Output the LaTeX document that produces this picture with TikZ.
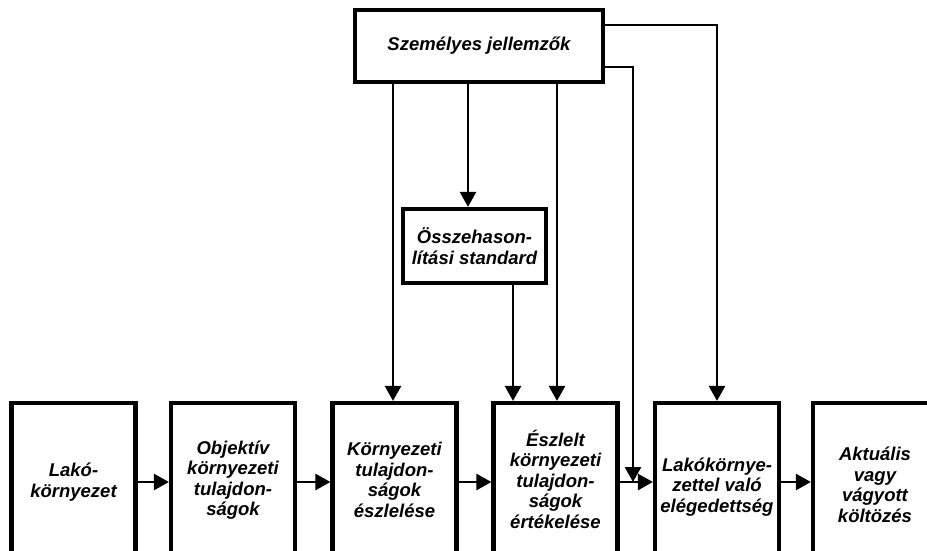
\documentclass[tikz,border=0pt]{standalone}
\usepackage{fontspec}
\setmainfont{Liberation Sans}
\usetikzlibrary{arrows.meta}
\begin{document}
\begin{tikzpicture}[x=1pt,y=-1pt,
  box/.style={draw=black,line width=4.2pt,fill=white,inner sep=0pt},
  lbl/.style={align=center,font=\fontsize{18.5}{20.5}\selectfont\bfseries\itshape,inner sep=0pt},
  conn/.style={draw=black,line width=2.6pt,-{Triangle[length=15pt,width=16pt]}},
  line/.style={draw=black,line width=2.6pt}]
\useasboundingbox (0,0) rectangle (927,551);
\clip (0,0) rectangle (927,551);
% top box
\node[box,minimum width=248pt,minimum height=72pt] (pers) at (479,46) {};
\node[lbl] (perst) at (pers.center) {Személyes jellemzők};
% comparison box
\node[box,minimum width=143pt,minimum height=74pt] (cmp) at (474.5,246) {};
\node[lbl] (cmpt) at (cmp.center) {Összehason-\\lítási standard};
% bottom boxes (cut by picture edge)
\foreach \n/\x in {b1/73.5,b2/233,b3/394.5,b4/555.5,b5/717,b6/875}{
  \node[box,minimum width=124pt,minimum height=200pt] (\n) at (\x,503) {};
}
\node[lbl] (t1) at (b1.center |- 0,482) {Lakó-\\környezet};
\node[lbl] (t2) at (b2.center |- 0,480) {Objektív\\környezeti\\tulajdon-\\ságok};
\node[lbl] (t3) at (b3.center |- 0,480) {Környezeti\\tulajdon-\\ságok\\észlelése};
\node[lbl] (t4) at (b4.center |- 0,479) {Észlelt\\környezeti\\tulajdon-\\ságok\\értékelése};
\node[lbl] (t5) at (b5.center |- 0,487) {Lakókörnye-\\zettel való\\elégedettség};
\node[lbl] (t6) at (b6.center |- 0,485) {Aktuális\\vagy\\vágyott\\költözés};
% horizontal arrows
\coordinate (hy) at (0,482);
\draw[conn] (b1.east |- hy) -- (b2.west |- hy);
\draw[conn] (b2.east |- hy) -- (b3.west |- hy);
\draw[conn] (b3.east |- hy) -- (b4.west |- hy);
\draw[conn] (b4.east |- hy) -- (b5.west |- hy);
\draw[conn] (b5.east |- hy) -- (b6.west |- hy);
% vertical arrows from personal characteristics
\coordinate (xa) at (393,0);
\coordinate (xb) at (468,0);
\coordinate (xc) at (557,0);
\coordinate (xd) at (513,0);
\coordinate (xe) at (633,0);
\coordinate (ya) at (0,25);
\coordinate (yb) at (0,67);
\draw[conn] (pers.south -| xa) -- (b3.north -| xa);
\draw[conn] (pers.south -| xb) -- (cmp.north -| xb);
\draw[conn] (pers.south -| xc) -- (b4.north -| xc);
\draw[conn] (cmp.south -| xd) -- (b4.north -| xd);
\draw[conn] (pers.east |- ya) -| (b5.north);
\draw[conn] (pers.east |- yb) -| (xe |- hy);
\end{tikzpicture}
\end{document}
